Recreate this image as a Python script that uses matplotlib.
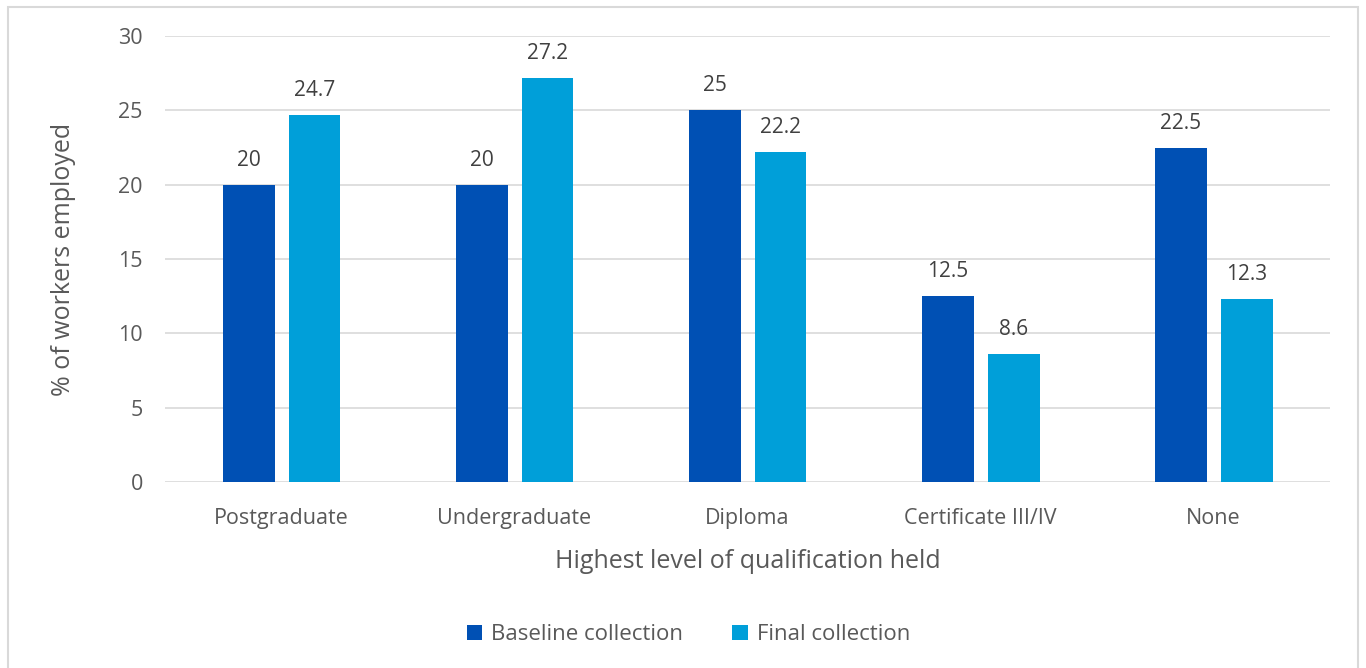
import numpy as np
import matplotlib.pyplot as plt
from matplotlib.patches import Rectangle

categories = ['Postgraduate', 'Undergraduate', 'Diploma', 'Certificate III/IV', 'None']
baseline = [20, 20, 25, 12.5, 22.5]
final = [24.7, 27.2, 22.2, 8.6, 12.3]
labels_baseline = ['20', '20', '25', '12.5', '22.5']
labels_final = ['24.7', '27.2', '22.2', '8.6', '12.3']

DARK = '#0050B4'
LIGHT = '#009FD9'
TEXT = '#595959'

plt.rcParams['font.family'] = ['Open Sans', 'DejaVu Sans']

fig = plt.figure(figsize=(13.66, 6.68), dpi=100)
ax = fig.add_axes([0.1208, 0.2784, 0.8529, 0.6677])

# outer frame like the original chart area
fig.patches.append(Rectangle((0.006, -0.01), 0.988, 0.999, transform=fig.transFigure,
                             fill=False, edgecolor='#D9D9D9', lw=1.5))

x = np.arange(len(categories))
w = 0.223
off = 0.1415
b1 = ax.bar(x - off, baseline, w, color=DARK, label='Baseline collection', zorder=3)
b2 = ax.bar(x + off, final, w, color=LIGHT, label='Final collection', zorder=3)

for bars, labs in ((b1, labels_baseline), (b2, labels_final)):
    for rect, lab in zip(bars, labs):
        ax.annotate(lab, (rect.get_x() + rect.get_width() / 2, rect.get_height()),
                    xytext=(0, 10), textcoords='offset points', ha='center', va='bottom',
                    fontsize=15, color='#404040')

ax.set_xlim(-0.5, 4.5)
ax.set_ylim(0, 30)
ax.set_yticks(range(0, 31, 5))
ax.set_xticks(x)
ax.set_xticklabels(categories)
ax.tick_params(axis='both', length=0, labelsize=15.5, labelcolor=TEXT)
ax.tick_params(axis='x', pad=19)
ax.tick_params(axis='y', pad=16)
ax.grid(axis='y', color='#D9D9D9', lw=1.2, zorder=0)
for s in ax.spines.values():
    s.set_visible(False)

ax.set_xlabel('Highest level of qualification held', fontsize=18, color=TEXT, labelpad=14)
ax.set_ylabel('% of workers employed', fontsize=18, color=TEXT, labelpad=30)

fig.legend(loc='center', bbox_to_anchor=(0.504, 0.050), ncol=2, frameon=False,
           fontsize=16, labelcolor=TEXT, handlelength=0.7, handleheight=0.7,
           handletextpad=0.4, columnspacing=2.2)

fig.savefig('out.png', dpi=100)
